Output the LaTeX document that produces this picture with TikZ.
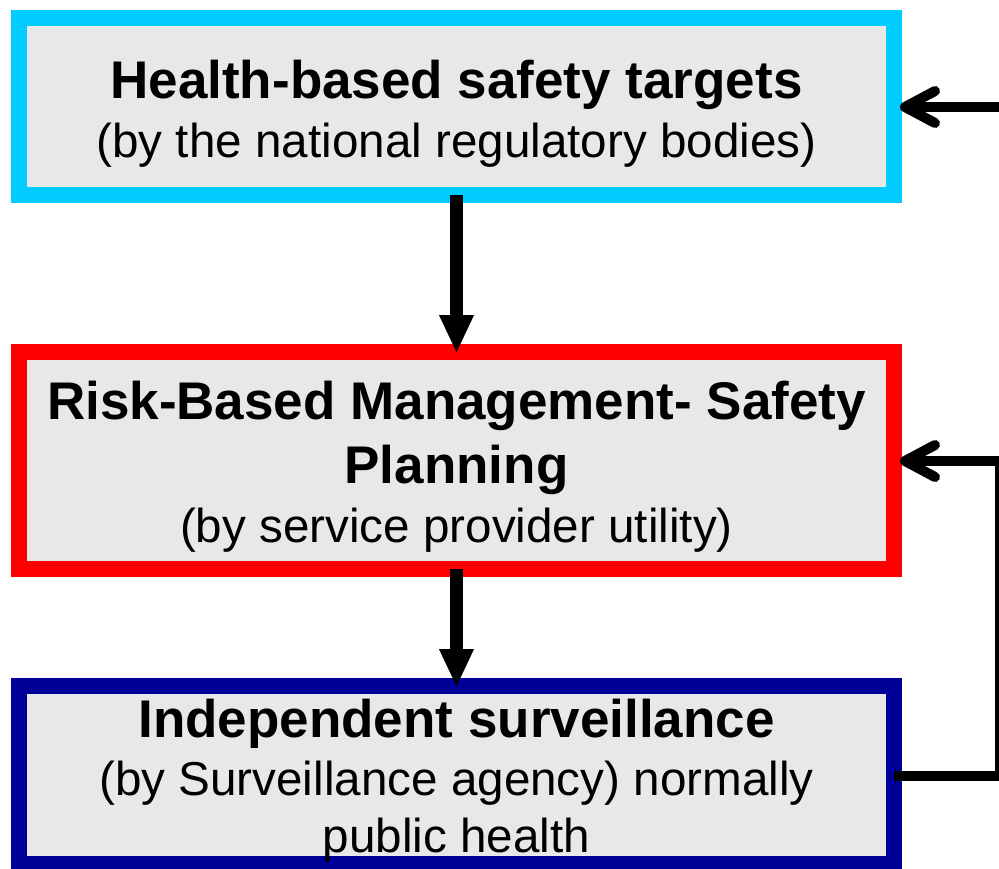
\documentclass[tikz,border=0pt]{standalone}
\usepackage{fontspec}
\setmainfont{Liberation Sans}
\usetikzlibrary{arrows.meta}
\definecolor{boxfill}{HTML}{E8E8E8}
\definecolor{topcol}{HTML}{00CCFF}
\definecolor{midcol}{HTML}{FF0000}
\definecolor{botcol}{HTML}{000099}
\tikzset{
  box/.style={draw, line width=16pt, fill=boxfill, rectangle, outer sep=0pt, inner sep=0pt},
  boldline/.style={anchor=base, inner sep=0pt, font=\fontsize{53}{60}\selectfont\bfseries},
  plainline/.style={anchor=base, inner sep=0pt, font=\fontsize{47.6}{56}\selectfont},
  downarrow/.style={line width=13pt, -{Triangle[width=35pt,length=37pt,line width=0.1pt]}},
  backarrow/.style={line width=10pt, line join=miter, -{Straight Barb[length=30pt,width=32pt,round]}}
}
\begin{document}
\begin{tikzpicture}[x=1pt,y=-1pt]
\useasboundingbox (0,0) rectangle (999,868);
% boxes
\node[box, draw=topcol, minimum width=875pt, minimum height=177pt] (hst) at (456.5,106.5) {};
\node[box, draw=midcol, minimum width=875pt, minimum height=217pt] (rbm) at (456.5,460.5) {};
\node[box, draw=botcol, minimum width=875pt, minimum height=178pt] (isv) at (456.5,775) {};
% arrows
\draw[downarrow] (hst.south) -- (rbm.north);
\draw[downarrow] (rbm.south) -- (isv.north);
\coordinate (ext) at (1015,107);
\coordinate (corner1) at (1000,776);
\coordinate (corner2) at (1000,461);
\draw[backarrow] (ext) -- ([xshift=6pt,yshift=-0.5pt]hst.east);
\draw[backarrow] ([yshift=-1pt]isv.east) -- (corner1) -- (corner2) -- ([xshift=6pt,yshift=-0.5pt]rbm.east);
% texts
\node[boldline] (hst1) at (456.5,98) {Health-based safety targets};
\node[plainline] (hst2) at (456.5,157) {(by the national regulatory bodies)};
\node[boldline] (rbm1) at (456.5,419) {Risk-Based Management- Safety};
\node[boldline] (rbm2) at (456.5,483) {Planning};
\node[plainline] (rbm3) at (456.5,542) {(by service provider utility)};
\node[boldline] (isv1) at (456.5,737) {Independent surveillance};
\node[plainline] (isv2) at (456.5,795) {(by Surveillance agency) normally};
\node[plainline] (isv3) at (456.5,852) {public health};
\end{tikzpicture}
\end{document}
